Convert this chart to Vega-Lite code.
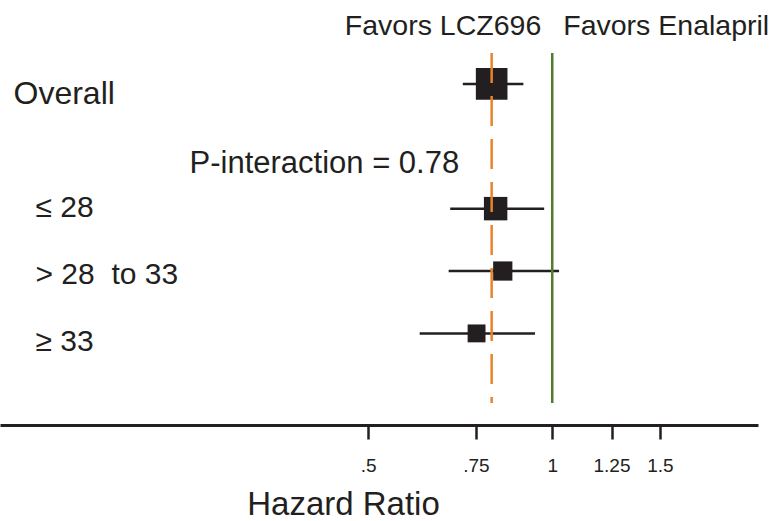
{
  "$schema": "https://vega.github.io/schema/vega-lite/v6.json",
  "width": 758,
  "height": 350,
  "autosize": "none",
  "padding": {"left": 0, "top": 53, "right": 20, "bottom": 118},
  "background": "white",
  "config": {"font": "Liberation Sans", "view": {"stroke": null}},
  "data": {
    "values": [
      {"label": "Overall", "hr": 0.796, "lo": 0.714, "hi": 0.897, "weight": 100},
      {"label": "≤ 28", "hr": 0.808, "lo": 0.681, "hi": 0.970, "weight": 55},
      {"label": "> 28\u00a0 to 33", "hr": 0.830, "lo": 0.677, "hi": 1.026, "weight": 37},
      {"label": "≥ 33", "hr": 0.752, "lo": 0.607, "hi": 0.937, "weight": 32}
    ]
  },
  "layer": [
    {
      "mark": {"type": "rule", "color": "#231f20", "strokeWidth": 2.5},
      "encoding": {
        "x": {
          "field": "lo", "type": "quantitative", "title": "Hazard Ratio",
          "scale": {"type": "log", "domain": [0.125, 2.17], "nice": false},
          "axis": {
            "orient": "bottom", "offset": 22, "grid": false,
            "values": [0.5, 0.75, 1, 1.25, 1.5],
            "labelExpr": "datum.value < 1 ? slice(toString(datum.value), 1) : toString(datum.value)",
            "domain": true, "domainWidth": 3, "domainColor": "#231f20",
            "ticks": true, "tickSize": 14, "tickWidth": 2.5, "tickColor": "#231f20",
            "labelFontSize": 19, "labelColor": "#231f20", "labelPadding": 17, "labelFont": "Liberation Sans",
            "labelFlush": false, "labelOverlap": false,
            "titleFontSize": 33, "titleFontWeight": "normal", "titleColor": "#231f20", "titleFont": "Liberation Sans",
            "titleBaseline": "alphabetic", "titleAlign": "center", "titleX": 343, "titleY": 89
          }
        },
        "x2": {"field": "hi"},
        "y": {
          "field": "label", "type": "nominal", "title": null,
          "scale": {
            "type": "point", "padding": 0,
            "domain": ["header", "Overall", "P-interaction = 0.78", "≤ 28", "> 28\u00a0 to 33", "≥ 33"],
            "range": [-31.5, 280.4]
          },
          "axis": {
            "orient": "left", "domain": false, "ticks": false, "tickSize": 0, "grid": false, "title": null,
            "values": ["Overall", "P-interaction = 0.78", "≤ 28", "> 28\u00a0 to 33", "≥ 33"],
            "labelAlign": "left", "labelBaseline": "middle", "labelFont": "Liberation Sans",
            "labelColor": "#231f20", "labelLimit": 0, "labelOverlap": false,
            "labelFontSize": {
              "condition": [
                {"test": "datum.value === 'Overall'", "value": 32},
                {"test": "datum.value === 'P-interaction = 0.78'", "value": 31}
              ],
              "value": 30
            },
            "labelPadding": {
              "condition": [
                {"test": "datum.value === 'Overall'", "value": -13},
                {"test": "datum.value === 'P-interaction = 0.78'", "value": -189}
              ],
              "value": -35
            },
            "labelOffset": {
              "condition": [
                {"test": "datum.value === 'Overall'", "value": 9.5},
                {"test": "datum.value === 'P-interaction = 0.78'", "value": 17.7},
                {"test": "datum.value === '≤ 28'", "value": -1},
                {"test": "datum.value === '≥ 33'", "value": 8.3}
              ],
              "value": 3.3
            }
          }
        }
      }
    },
    {
      "mark": {"type": "square", "filled": true, "color": "#231f20", "opacity": 1},
      "encoding": {
        "x": {"field": "hr", "type": "quantitative", "title": "Hazard Ratio"},
        "y": {"field": "label", "type": "nominal", "title": null},
        "size": {"field": "weight", "type": "quantitative", "scale": {"domain": [0, 100], "range": [0, 1000]}, "legend": null}
      }
    },
    {
      "transform": [{"filter": "datum.label === 'Overall'"}],
      "mark": {"type": "rule", "color": "#e8832b", "strokeWidth": 2.5, "strokeDash": [30, 13]},
      "encoding": {
        "x": {"field": "hr", "type": "quantitative", "title": "Hazard Ratio"}
      }
    },
    {
      "data": {"values": [{"line": "no effect", "hr": 1}]},
      "mark": {"type": "rule", "color": "#507d32", "strokeWidth": 2.5},
      "encoding": {
        "x": {"field": "hr", "type": "quantitative", "title": "Hazard Ratio"}
      }
    },
    {
      "data": {"values": [{"text": "Favors LCZ696", "hr": 1}]},
      "mark": {"type": "text", "align": "right", "baseline": "middle", "dx": -11, "dy": 4.3, "fontSize": 28.5, "color": "#231f20"},
      "encoding": {
        "x": {"field": "hr", "type": "quantitative", "title": "Hazard Ratio"},
        "y": {"datum": "header", "type": "nominal"},
        "text": {"field": "text"}
      }
    },
    {
      "data": {"values": [{"text": "Favors Enalapril", "hr": 1}]},
      "mark": {"type": "text", "align": "left", "baseline": "middle", "dx": 11, "dy": 4.3, "fontSize": 28.5, "color": "#231f20"},
      "encoding": {
        "x": {"field": "hr", "type": "quantitative", "title": "Hazard Ratio"},
        "y": {"datum": "header", "type": "nominal"},
        "text": {"field": "text"}
      }
    }
  ]
}
